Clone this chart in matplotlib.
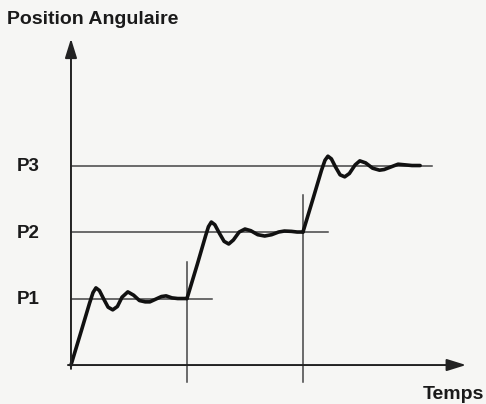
import matplotlib.pyplot as plt

# reading of the scanned diagram (time in arbitrary units, positions P1..P3 = 1..3)
levels = [1, 2, 3]
level_labels = ["P1", "P2", "P3"]
level_ends = [12.2, 22.2, 31.1]
step_times = [10, 20]
step_tops = [1.55, 2.56]

t1 = [0, 0.9, 1.6, 1.9, 2.15, 2.45, 2.8, 3.2, 3.6, 4.0, 4.4, 4.9, 5.4, 5.9, 6.4, 6.8, 7.3, 7.8, 8.2, 8.7, 9.2, 10]
y1 = [0, 0.52, 0.93, 1.09, 1.16, 1.12, 1.0, 0.87, 0.83, 0.88, 1.02, 1.10, 1.05, 0.97, 0.95, 0.95, 0.99, 1.03, 1.04, 1.01, 1.0, 1.0]

t2 = [10, 10.9, 11.6, 11.85, 12.1, 12.4, 12.8, 13.2, 13.6, 14.0, 14.5, 15.0, 15.5, 16.1, 16.7, 17.3, 17.9, 18.4, 19.0, 19.5, 20]
y2 = [1, 1.52, 1.94, 2.08, 2.15, 2.11, 1.98, 1.86, 1.82, 1.88, 2.00, 2.045, 2.02, 1.96, 1.94, 1.96, 2.00, 2.015, 2.01, 2.0, 2.0]

t3 = [20, 20.9, 21.6, 21.9, 22.15, 22.45, 22.8, 23.2, 23.6, 24.0, 24.5, 24.9, 25.4, 26.0, 26.6, 27.0, 27.6, 28.2, 28.8, 29.4, 30.1]
y3 = [2, 2.52, 2.93, 3.08, 3.14, 3.10, 2.98, 2.86, 2.83, 2.88, 3.01, 3.07, 3.04, 2.96, 2.93, 2.94, 2.98, 3.02, 3.01, 3.0, 3.0]

fig = plt.figure(figsize=(4.86, 4.04), dpi=100)
fig.patch.set_facecolor("#f6f6f4")
ax = fig.add_axes([0, 0, 1, 1])
ax.set_facecolor("#f6f6f4")
ax.set_xlim(-6.12, 35.78)
ax.set_ylim(-0.586, 5.489)
ax.axis("off")

font = dict(family="Liberation Sans", weight="bold", color="#1a1a1a")
arrow = dict(arrowstyle="-|>,head_length=0.9,head_width=0.28", mutation_scale=13,
             lw=1.4, color="#222222")

# axes with arrows
ax.annotate("", xy=(0, 4.95), xytext=(0, -0.1), arrowprops=arrow)
ax.annotate("", xy=(34.3, 0), xytext=(-0.5, 0), arrowprops=arrow)

# reference levels
for lev, lab, end in zip(levels, level_labels, level_ends):
    ax.plot([0, end], [lev, lev], color="#444444", lw=1.1)
    ax.text(-4.7, lev - 0.02, lab, fontsize=13.5, va="center", ha="left", **font)

# step instants
for ts, top in zip(step_times, step_tops):
    ax.plot([ts, ts], [-0.26, top], color="#444444", lw=1.1)

# response
for t, y in [(t1, y1), (t2, y2), (t3, y3)]:
    ax.plot(t, y, color="#111111", lw=2.6, solid_joinstyle="round", solid_capstyle="round")

ax.text(-5.5, 5.2, "Position Angulaire", fontsize=14, va="center", ha="left", **font)
ax.text(35.65, -0.45, "Temps", fontsize=14, va="center", ha="right", **font)

fig.savefig("out.png", dpi=100, facecolor=fig.get_facecolor())
